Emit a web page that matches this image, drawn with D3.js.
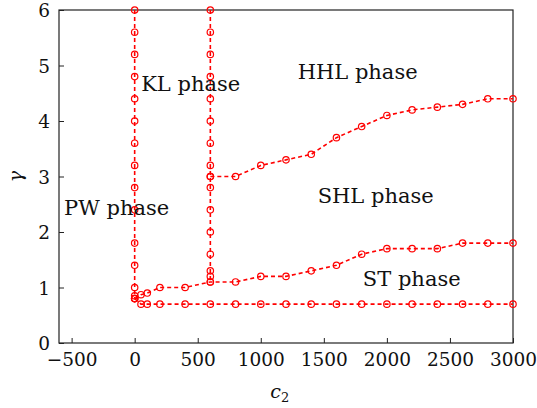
<!DOCTYPE html>
<html>
<head>
<meta charset="utf-8">
<script src="https://cdn.jsdelivr.net/npm/d3@7"></script>
<style>
  body { margin: 0; background: #fff; }
  text { font-family: "DejaVu Serif", "Liberation Serif", serif; fill: #111; }
</style>
</head>
<body>
<svg width="537" height="408"></svg>
<script>
// boundary lines of the phase diagram (c2, gamma)
var col0Gamma = [6, 5.6, 5.2, 4.8, 4.4, 4.0, 3.6, 3.2, 2.8, 2.4, 1.8, 1.4, 1.0, 0.85, 0.8];
var col600Gamma = [6, 5.6, 5.2, 4.8, 4.4, 4.0, 3.6, 3.2, 3.0, 2.8, 2.4, 2.0, 1.6, 1.3, 1.2, 1.1];
var hhlC2 = [600, 800, 1000, 1200, 1400, 1600, 1800, 2000, 2200, 2400, 2600, 2800, 3000];
var hhlGamma = [3.0, 3.0, 3.2, 3.3, 3.4, 3.7, 3.9, 4.1, 4.2, 4.25, 4.3, 4.4, 4.4];
var shlC2 = [0, 50, 100, 200, 400, 600, 800, 1000, 1200, 1400, 1600, 1800, 2000, 2200, 2400, 2600, 2800, 3000];
var shlGamma = [0.8, 0.87, 0.9, 1.0, 1.0, 1.1, 1.1, 1.2, 1.2, 1.3, 1.4, 1.6, 1.7, 1.7, 1.7, 1.8, 1.8, 1.8];
var stC2 = [0, 50, 100, 200, 400, 600, 800, 1000, 1200, 1400, 1600, 1800, 2000, 2200, 2400, 2600, 2800, 3000];
var stGamma = [0.8, 0.7, 0.7, 0.7, 0.7, 0.7, 0.7, 0.7, 0.7, 0.7, 0.7, 0.7, 0.7, 0.7, 0.7, 0.7, 0.7, 0.7];

var xTicks = [-500, 0, 500, 1000, 1500, 2000, 2500, 3000];
var yTicks = [0, 1, 2, 3, 4, 5, 6];

var phaseNames = ["KL phase", "HHL phase", "SHL phase", "ST phase", "PW phase"];
var phaseC2 = [444, 1768, 1911, 2197, -143];
var phaseGamma = [4.54, 4.76, 2.52, 1.03, 2.31];

var svg = d3.select("svg"),
    margin = {top: 10, right: 24, bottom: 65, left: 59},
    width = +svg.attr("width") - margin.left - margin.right,
    height = +svg.attr("height") - margin.top - margin.bottom;

var x = d3.scaleLinear().domain([-600, 3000]).range([0, width]);
var y = d3.scaleLinear().domain([0, 6]).range([height, 0]);

var g = svg.append("g").attr("transform", "translate(" + margin.left + "," + margin.top + ")");

// frame
g.append("rect")
    .attr("width", width).attr("height", height)
    .attr("fill", "none").attr("stroke", "#222").attr("stroke-width", 1.2);

var fmt = function(d) { return d < 0 ? "\u2212" + (-d) : d; };

var xAxis = g.append("g")
    .attr("transform", "translate(0," + height + ")")
    .call(d3.axisBottom(x).tickValues(xTicks).tickSize(-5).tickPadding(10).tickFormat(fmt));
var yAxis = g.append("g")
    .call(d3.axisLeft(y).tickValues(yTicks).tickSize(-5).tickPadding(9).tickFormat(d3.format("d")));

[xAxis, yAxis].forEach(function(a) {
  a.select(".domain").remove();
  a.selectAll(".tick line").attr("stroke", "#222").attr("stroke-width", 1);
  a.selectAll(".tick text").attr("font-size", 18.5).attr("font-family", "DejaVu Serif").attr("fill", "#111");
});
yAxis.selectAll(".tick text").attr("dy", "0.36em");

// axis labels
svg.append("text")
    .attr("transform", "translate(22," + (margin.top + y(3)) + ") rotate(-90)")
    .attr("text-anchor", "middle")
    .attr("font-size", 19).attr("font-style", "italic")
    .text("\u03b3");

var xl = svg.append("text")
    .attr("x", margin.left + x(1150)).attr("y", 398)
    .attr("text-anchor", "middle")
    .attr("font-size", 19).attr("font-style", "italic");
xl.append("tspan").text("c");
xl.append("tspan").attr("font-size", 13).attr("font-style", "normal").attr("dy", 4).text("2");

// series
var series = [
  col0Gamma.map(function(v) { return [0, v]; }),
  col600Gamma.map(function(v) { return [600, v]; }),
  hhlC2.map(function(c, i) { return [c, hhlGamma[i]]; }),
  shlC2.map(function(c, i) { return [c, shlGamma[i]]; }),
  stC2.map(function(c, i) { return [c, stGamma[i]]; })
];

var line = d3.line().x(function(d) { return x(d[0]); }).y(function(d) { return y(d[1]); });

series.forEach(function(s) {
  g.append("path")
      .datum(s)
      .attr("d", line)
      .attr("fill", "none")
      .attr("stroke", "#ff0000")
      .attr("stroke-width", 1.6)
      .attr("stroke-dasharray", "4,3");
  g.selectAll(null)
      .data(s)
      .enter().append("circle")
      .attr("cx", function(d) { return x(d[0]); })
      .attr("cy", function(d) { return y(d[1]); })
      .attr("r", 3.2)
      .attr("fill", "none")
      .attr("stroke", "#ff0000")
      .attr("stroke-width", 1.2);
});

// phase labels
g.selectAll(".phase")
    .data(phaseNames)
    .enter().append("text")
    .attr("class", "phase")
    .attr("x", function(d, i) { return x(phaseC2[i]); })
    .attr("y", function(d, i) { return y(phaseGamma[i]); })
    .attr("text-anchor", "middle")
    .attr("font-size", 21)
    .text(function(d) { return d; });
</script>
</body>
</html>
